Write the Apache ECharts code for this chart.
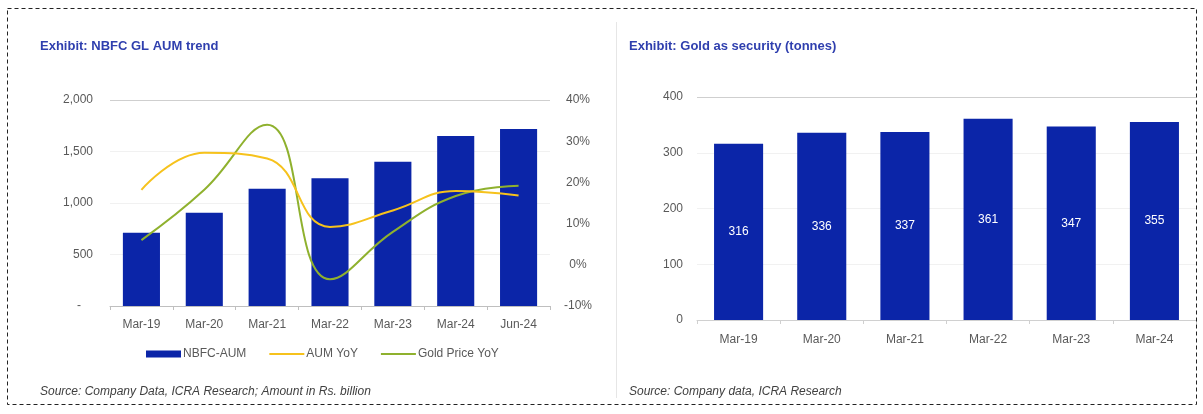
<!DOCTYPE html>
<html>
<head>
<meta charset="utf-8">
<title>NBFC gold loan AUM and gold as security</title>
<script src="https://cdn.jsdelivr.net/npm/echarts@6/dist/echarts.min.js"></script>
<style>
  html, body { margin: 0; padding: 0; background: #fff; }
  #chart { width: 1203px; height: 414px; }
</style>
</head>
<body>
<div id="chart"></div>
<script>
// Left panel: NBFC gold-loan AUM (Rs. billion) with growth rates (%)
const aumCategories = ['Mar-19', 'Mar-20', 'Mar-21', 'Mar-22', 'Mar-23', 'Mar-24', 'Jun-24'];
const nbfcAum = [712, 906, 1139, 1240, 1401, 1650, 1718];
const aumYoy = [18.2, 27.2, 25.8, 9.2, 13.2, 17.9, 16.8];
const goldPriceYoy = [6.0, 18.2, 34.0, -3.5, 8.0, 16.7, 19.2];

// Right panel: gold held as security (tonnes)
const goldCategories = ['Mar-19', 'Mar-20', 'Mar-21', 'Mar-22', 'Mar-23', 'Mar-24'];
const goldTonnes = [316, 336, 337, 361, 347, 355];

const FONT = "'Liberation Sans', Arial, sans-serif";
const BAR_BLUE = '#0b25a8';
const AXIS_TEXT = '#595959';

const chart = echarts.init(document.getElementById('chart'), null, { renderer: 'canvas' });

const faintSplit = { show: true, lineStyle: { color: ['#ffffff', '#f1f1f1', '#f1f1f1', '#f1f1f1', '#cfcfcf'], width: 1 } };
const hiddenMarker = { opacity: 0 };

chart.setOption({
  animation: false,
  backgroundColor: '#ffffff',
  textStyle: { fontFamily: FONT },
  title: [
    { text: 'Exhibit: NBFC GL AUM trend', left: 35, top: 35,
      textStyle: { fontFamily: FONT, fontSize: 13, fontWeight: 'bold', color: '#2f3fae' } },
    { text: 'Exhibit: Gold as security (tonnes)', left: 624, top: 35,
      textStyle: { fontFamily: FONT, fontSize: 13, fontWeight: 'bold', color: '#2f3fae' } },
    { text: 'Source: Company Data, ICRA Research; Amount in Rs. billion', left: 35, top: 381,
      textStyle: { fontFamily: FONT, fontSize: 12, fontStyle: 'italic', fontWeight: 'normal', color: '#404040' } },
    { text: 'Source: Company data, ICRA Research', left: 624, top: 381,
      textStyle: { fontFamily: FONT, fontSize: 12, fontStyle: 'italic', fontWeight: 'normal', color: '#404040' } }
  ],
  legend: {
    left: 141, top: 343,
    itemWidth: 35, itemHeight: 7, itemGap: 22,
    textStyle: { fontFamily: FONT, fontSize: 12, color: AXIS_TEXT, padding: [0, 0, 0, -3] },
    data: [
      { name: 'NBFC-AUM', icon: 'rect' },
      { name: 'AUM YoY', itemStyle: hiddenMarker },
      { name: 'Gold Price YoY', itemStyle: hiddenMarker }
    ]
  },
  grid: [
    { left: 110, right: 653, top: 100, bottom: 108 },
    { left: 697, right: 7, top: 97, bottom: 94 }
  ],
  xAxis: [
    {
      type: 'category', gridIndex: 0, data: aumCategories,
      axisLine: { lineStyle: { color: '#bfbfbf' } },
      axisTick: { show: true, length: 4, lineStyle: { color: '#bfbfbf' } },
      axisLabel: { color: AXIS_TEXT, fontSize: 12, margin: 13, fontFamily: FONT }
    },
    {
      type: 'category', gridIndex: 1, data: goldCategories,
      axisLine: { lineStyle: { color: '#d0d0d0' } },
      axisTick: { show: true, length: 4, lineStyle: { color: '#d0d0d0' } },
      axisLabel: { color: AXIS_TEXT, fontSize: 12, margin: 14, fontFamily: FONT }
    }
  ],
  yAxis: [
    {
      type: 'value', gridIndex: 0, min: 0, max: 2000, interval: 500,
      axisLine: { show: false }, axisTick: { show: false },
      splitLine: faintSplit,
      axisLabel: {
        color: AXIS_TEXT, fontSize: 12, margin: 17, fontFamily: FONT,
        formatter: v => v === 0 ? '{dash|-}' : v.toLocaleString('en-US'),
        rich: { dash: { color: AXIS_TEXT, fontSize: 12, padding: [0, 12, 0, 0] } }
      }
    },
    {
      type: 'value', gridIndex: 0, min: -10, max: 40, interval: 10, position: 'right',
      axisLine: { show: false }, axisTick: { show: false }, splitLine: { show: false },
      axisLabel: { color: AXIS_TEXT, fontSize: 12, margin: 28, align: 'center', fontFamily: FONT,
        formatter: '{value}%' }
    },
    {
      type: 'value', gridIndex: 1, min: 0, max: 400, interval: 100,
      axisLine: { show: false }, axisTick: { show: false },
      splitLine: faintSplit,
      axisLabel: { color: AXIS_TEXT, fontSize: 12, margin: 14, fontFamily: FONT }
    }
  ],
  series: [
    {
      name: 'NBFC-AUM', type: 'bar', xAxisIndex: 0, yAxisIndex: 0,
      data: nbfcAum, barWidth: '59%',
      itemStyle: { color: BAR_BLUE }
    },
    {
      name: 'AUM YoY', type: 'line', xAxisIndex: 0, yAxisIndex: 1,
      data: aumYoy, smooth: 0.45, symbol: 'none', showSymbol: false,
      lineStyle: { color: '#f6c21c', width: 2 }, itemStyle: { color: '#f6c21c' }, z: 4
    },
    {
      name: 'Gold Price YoY', type: 'line', xAxisIndex: 0, yAxisIndex: 1,
      data: goldPriceYoy, smooth: 0.45, symbol: 'none', showSymbol: false,
      lineStyle: { color: '#8fb12e', width: 2 }, itemStyle: { color: '#8fb12e' }, z: 3
    },
    {
      name: 'Gold as security', type: 'bar', xAxisIndex: 1, yAxisIndex: 2,
      data: goldTonnes, barWidth: '59%',
      itemStyle: { color: BAR_BLUE },
      label: { show: true, position: 'inside', color: '#ffffff', fontSize: 12, fontFamily: FONT }
    }
  ],
  graphic: [
    // dashed frame around both exhibits
    { type: 'rect', silent: true, z: 100,
      shape: { x: 7.5, y: 8.5, width: 1189, height: 396 },
      style: { fill: null, stroke: '#222', lineWidth: 1, lineDash: [4, 3] } },
    // thin divider between the two exhibits
    { type: 'line', silent: true, z: 100,
      shape: { x1: 616.5, y1: 22, x2: 616.5, y2: 398 },
      style: { stroke: '#e6e6e6', lineWidth: 1 } }
  ]
});
</script>
</body>
</html>
